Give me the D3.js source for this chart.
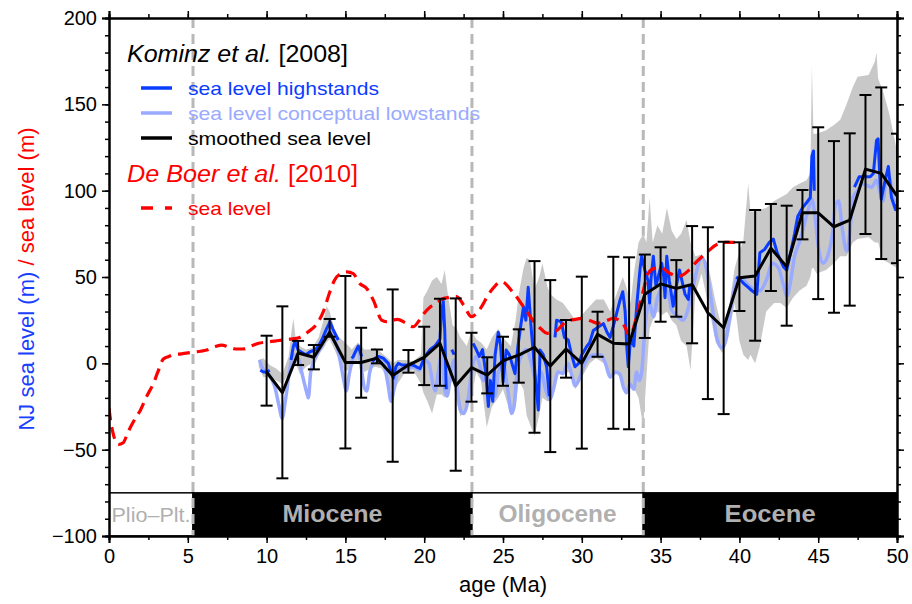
<!DOCTYPE html>
<html>
<head>
<meta charset="utf-8">
<script src="https://cdn.jsdelivr.net/npm/d3@7"></script>
<style>
  body { margin: 0; background: #fff; }
  svg { font-family: "Liberation Sans", Arial, Helvetica, sans-serif; }
</style>
</head>
<body>
<svg id="canvas" width="912" height="604"></svg>
<script>
// Kominz et al. 2008 smoothed sea level + error bars
var smoothAge = [10, 11, 12, 13, 14, 15, 16, 17, 18, 19, 20, 21, 22, 23, 24, 25, 26, 27, 28, 29, 30,
  31, 32, 33, 34, 35, 36, 37, 38, 39, 40, 41, 42, 43, 44, 45, 46, 47, 48, 49, 50];
var smoothVal = [-5, -17, 6, 3.5, 18, 0.5, 0.5, 3, -7, -1, 3.5, 11.5, -13, -2.5, -6.8, 1.5, 4.8, 9.3, -1.6, 8.3, 0,
  16.8, 11.6, 11.2, 40, 46, 43.4, 45.7, 29.3, 20.6, 49.6, 50.6, 66.6, 56, 87.2, 87.2, 79.1, 83, 112.5, 110, 97];
var errHigh = [16, 33, 13, 10.6, 25.7, 50.6, 20.6, 8, 42.8, 7.7, 21.2, 37.4, 37.6, 17.7, 3.5, 15.4, 19.7, 59.2, 48.2, 25.1, 50.2,
  29.9, 61.7, 61.4, 63, 67.2, 59.8, 79.5, 78.8, 70.4, 70.1, 88.8, 92.3, 91.3, 100.4, 136.7, 128.7, 133.2, 155.4, 159.8, 133];
var errLow = [-24.5, -66.6, -1, -3.5, 15.4, -49.3, -19.9, 0, -57, -5.4, -12.6, -13, -62.2, -22.2, -17.4, -13, -11.2, -40.2, -51.4, -8.3, -49.4,
  3.8, -37.9, -38.2, 14.7, 24.1, 27, 11.6, -20.7, -29.4, 30.3, 13.1, 41.9, 21.8, 71.8, 37.2, 29.3, 33.4, 74.9, 60.4, 58];

// De Boer et al. 2010 sea level
var deBoerAge = [0, 0.1, 0.3, 0.6, 0.9, 1.2, 1.6, 2.0, 2.4, 2.8, 3.1, 3.45, 3.8, 4.1, 4.6, 5.3, 5.8, 6.2, 6.7, 7.15,
  7.6, 8.1, 8.5, 9.0, 9.5, 10.0, 10.5, 11.0, 11.5, 12.1, 12.6, 13.2, 13.6, 14.0, 14.3, 14.7, 15.1, 15.5, 15.9, 16.35,
  16.8, 17.3, 17.6, 18.0, 18.3, 18.8, 19.3, 19.7, 20.0, 20.4, 20.8, 21.2, 21.6, 22.06, 22.5, 23.0, 23.5, 24.2, 24.9, 25.6,
  26.3, 26.9, 27.4, 27.8, 28.4, 29.0, 29.6, 30.1, 30.6, 31.0, 31.5, 32.0, 32.6, 33.05, 33.5, 33.9, 34.2, 34.6, 35.0, 35.6,
  36.2, 36.8, 37.3, 37.9, 38.5, 39.0, 39.7];
var deBoerVal = [-26, -33, -42, -47, -46, -40, -33, -27, -19, -12, -5, 2.5, 4, 5, 5.5, 6.4, 7, 7.7, 9.5, 10.6,
  9.5, 8.3, 8.3, 10, 11.6, 12.3, 12.9, 13.5, 14, 15, 18, 23, 30, 41, 48, 52, 53, 52, 46.3, 43.4,
  36, 25, 24.1, 25, 25.5, 23.5, 21.2, 25, 29, 32.8, 35, 37.6, 38.2, 38.6, 33.8, 27, 30.9, 41.5, 47.3, 41.5,
  32.8, 25, 20, 17.4, 19, 24.1, 25.5, 26, 24.5, 23.2, 24.5, 26, 23.2, 16, 28, 42, 52, 55, 55.5, 52,
  50.5, 54, 59, 64, 68.5, 70, 70];

// sea level highstands (null = gap)
var highAge = [9.6, 9.8, 10.0, 10.2, 10.3,
  11.55, 11.7, 11.8, 12.0, 12.3, 12.5, 12.75, 13.07, 13.3, 13.5, 13.8, 14.02, 14.2, 14.34, 14.55, 14.6,
  15.4, 15.5, 15.7, 15.82, 16.03, 16.1,
  16.7, 16.9, 17.09, 17.4, 17.72, 17.9, 18.04, 18.2, 18.36, 18.6, 18.89, 19.3, 19.5, 19.73, 20.05, 20.37, 20.68, 21.0, 21.1, 21.21, 21.3, 21.4, 21.5,
  21.75, 21.9, 22.0,
  23.1, 23.3, 23.5, 23.7, 23.9, 24.07, 24.2, 24.35, 24.5, 24.6, 24.7, 24.85, 25.0, 25.2, 25.4, 25.76, 25.95, 26.1, 26.3, 26.45, 26.6, 26.8,
  27.03, 27.24, 27.35, 27.55, 27.77, 27.94, 28.0,
  28.3, 28.4, 28.7, 28.9, 29.14, 29.35, 29.57, 29.8, 30.0, 30.3, 30.5, 30.73, 31.05, 31.37, 31.6, 31.8, 32.1, 32.43, 32.6, 32.75,
  32.85, 32.95, 33.1, 33.3, 33.5, 33.7, 33.8, 34.0, 34.2, 34.3, 34.4, 34.54, 34.7, 34.85, 35.07, 35.2, 35.28, 35.39, 35.55, 35.8,
  36.0, 36.2, 36.35, 36.55, 36.76, 36.85, 36.9,
  39.8, 40.1, 40.3, 40.56, 40.8, 41.1, 41.3, 41.6, 41.9, 42.15, 42.4, 42.79, 43.0, 43.2, 43.5, 43.7, 44.0, 44.26, 44.5, 44.6,
  44.7, 44.75, 44.8,
  47.3, 47.6, 48.0, 48.3, 48.5, 48.7, 48.8, 48.9, 49.0, 49.2, 49.45, 49.65, 49.9, 50.0];
var highVal = [-4, -5, -5, -4, null,
  2, 10, 12.5, 7.7, 6, 5, 6.7, 7.7, 10, 13.5, 20, 24, 20, 17.4, 13.5, null,
  3, 4, 8, 10, 4, null,
  1, 3, 4, 3, 0, -5, -8.7, -2, 0, -1, -1, -1, -2, -3, 4, 8, 10, 14, 30, 36, 20, -15, null,
  8, 5, null,
  11.6, 8, 4, 8, -5, -25, -10, -22, 5, 11.6, 18, 10, -11, 7.7, 5, -6, 10, 20, 32.8, 25, 44, 19,
  -6, -27, 7.7, 5, -2, -19, null,
  15, 25, 24, 15, 13.5, 5, -2, 0, 5, 9.6, 12, 19, 21, 23, 18, 15, 25, 36.7, 41.5, 30,
  10, -2, 15, 10, 35, 55, 62, 54, 48, 35, 50, 62, 45, 50, 58, 50, 38, 62, 48, 33,
  45, 54, 48, 40, 37, 45, null,
  50, 48, 46, 44, 42, 40, 64, 66, 70, 72, 64, 56, 54, 62, 75, 85, 90, 93, 96, 120,
  123, 100, null,
  102, 108, 108, 108, 110, 129, 130, 110, 95, 104, 114, 96, 89, 92];

// sea level conceptual lowstands
var lowAge = [9.55, 9.75, 10.1, 10.5, 10.8, 10.98, 11.2, 11.45, 11.7, 12.0, 12.3, 12.55, 12.65, 12.8, 13.1, 13.5, 13.9, 14.1, 14.4, 14.7,
  14.9, 15.05, 15.25, 15.55, 15.8, 16.0, 16.2, 16.35, 16.55, 16.8, 17.1, 17.4, 17.7, 17.9, 18.1, 18.4, 18.9, 19.3, 19.7, 20.0,
  20.3, 20.55, 20.7, 20.9, 21.1, 21.3, 21.45, 21.7, 21.9, 22.1, 22.3, 22.5, 22.8, 23.0, 23.3, 23.55, 23.75, 24.0, 24.3, 24.5,
  24.7, 25.0, 25.3, 25.55, 25.7, 25.9, 26.2, 26.5, 26.8, 27.1, 27.4, 27.7, 27.98, 28.2, 28.5, 28.8, 29.1, 29.4, 29.57, 29.8,
  30.1, 30.4, 30.8, 31.2, 31.5, 31.8, 32.1, 32.4, 32.65, 32.84, 33.05, 33.3, 33.48, 33.65, 33.8, 34.0, 34.3, 34.54, 34.8, 35.2,
  35.5, 35.7, 36.0, 36.44, 36.7, 37.0, 37.2, 37.45, 37.65, 37.9, 38.24, 38.56, 38.9, 39.1, 39.35, 39.6, 39.9, 40.3, 40.6, 40.9,
  41.3, 41.7, 42.1, 42.5, 42.8, 43.0, 43.2, 43.5, 43.8, 44.1, 44.4, 44.6, 44.8, 45.0, 45.3, 45.6, 45.9, 46.1, 46.3, 46.5,
  46.8, 47.0, 47.2, 47.5, 47.8, 48.1, 48.4, 48.7, 48.9, 49.1, 49.3, 49.5, 49.7, 50.0];
var lowVal = [2, -3, -6, -13, -25, -32, -21, -5, 5, 3, -8, -17, -20, -5, 3, 10, 18, 20, 12, 0,
  -10, -16, -6, 5, 8, -2, -14, -16, -5, 1, 3, 1, -12, -22, -14, -3, -3, -2, -4, 2,
  0, -12, -16, -5, 5, -15, -19, -5, 2, -15, -27, -29, -20, -5, 4, -2, -10, -8, -15, -19,
  -5, 0, -15, -29, -25, -5, 5, 8, 0, -10, -5, -15, -21, -15, -5, -6, 0, -8, -13, -10,
  -2, 3, 5, 5, 0, -8, -5, -6, -14, -17, -12, -15, -5, -10, -5, 20, 35, 27, 38, 44,
  40, 31, 28, 25, 30, 42, 50, 59, 61, 55, 35, 15, 9, 12, 25, 40, 50, 48, 45, 43,
  42, 48, 58, 55, 45, 39, 45, 62, 70, 80, 90, 95, 85, 68, 58, 62, 75, 92, 94, 80,
  65, 75, 96, 100, 104, 103, 102, 106, 100, 94, 105, 108, 98, 90];

// uncertainty envelope
var bandAge = [9.5, 9.8, 10.2, 10.6, 11.0, 11.4, 11.6, 11.7, 11.85, 12.1, 12.5, 12.9, 13.3, 13.7, 13.8, 14.0, 14.3, 14.6, 15.0, 15.4,
  15.8, 16.2, 16.6, 16.9, 17.3, 17.7, 18.0, 18.3, 18.8, 19.3, 19.8, 19.95, 20.2, 20.5, 20.8, 21.1, 21.3, 21.5, 21.8, 22.06,
  22.3, 22.7, 23.0, 23.3, 23.6, 23.97, 24.3, 24.7, 25.0, 25.5, 25.8, 26.0, 26.3, 26.5, 26.7, 27.0, 27.3, 27.5, 27.8, 28.0,
  28.4, 28.8, 29.2, 29.6, 30.0, 30.5, 30.9, 31.4, 31.8, 32.2, 32.6, 32.8, 33.1, 33.3, 33.6, 33.9, 34.1, 34.3, 34.5, 34.8,
  35.1, 35.4, 35.7, 36.0, 36.3, 36.65, 36.9, 37.2, 37.6, 38.0, 38.5, 38.9, 39.3, 39.7, 40.0, 40.25, 40.56, 40.7, 41.0, 41.3,
  41.7, 42.2, 42.6, 43.0, 43.4, 43.8, 44.26, 44.5, 44.6, 44.7, 44.9, 45.5, 46.0, 46.4, 46.8, 47.2, 47.5, 48.2, 48.6, 48.7,
  48.8, 49.1, 49.5, 50.0];
var bandLow = [-2, -8, -8, -10, -12, -6, 0, 2, 0, -6, -2, 0, 5, 10, 12, 14, 8, 2, -5, -2,
  2, -5, -3, -2, -3, -10, -20, -12, -5, -4, -12, -17, -22, -29, -18, -18, -20, -15, -10, -23,
  -31, -25, -20, -5, -10, -37, -25, -20, -15, -30, -25, -10, -15, -30, -35, -42, -30, -20, -22, -22,
  -5, -6, -5, -15, -8, 0, 3, 0, -8, -6, -10, -18, -12, -14, -20, -37, -8, 20, 25, 30,
  28, 30, 25, 22, 13, 10, -4, 40, 52, 35, 12, 6, 15, 35, 13, 5, 2, 5, 0, 10,
  30, 35, 35, 32, 38, 42, 45, 50, 55, 55, 52, 54, 58, 62, 62, 70, 72, 73, 70, 70,
  70, 60, 58, 55];
var bandHigh = [2, 3, -1, -3, -6, 4, 20, 26, 14, 10, 8, 9, 15, 28, 33, 30, 20, 15, 12, 8,
  12, 8, 8, 9, 6, 3, 0, 2, 2, 1, 5, 38, 42, 48, 50, 46, 54, 40, 22, 20,
  15, 10, 19, 14, 12, 8, 15, 20, 15, 10, 25, 40, 55, 61, 60, 43, 50, 58, 45, 40,
  37, 35, 30, 25, 28, 33, 37, 37, 30, 40, 50, 45, 35, 52, 70, 75, 70, 96, 70, 80,
  75, 90, 77, 72, 75, 83, 70, 62, 63, 58, 35, 20, 30, 55, 65, 71, 104, 88, 88, 89,
  90, 94, 96, 98, 102, 104, 106, 110, 172, 133, 133, 135, 138, 141, 150, 160, 166, 167, 175, 180,
  165, 158, 145, 123];

var epochName = ['Plio\u2013Plt.', 'Miocene', 'Oligocene', 'Eocene'];
var epochStart = [0, 5.33, 23.03, 33.9];
var epochEnd = [5.33, 23.03, 33.9, 50];
var boundaries = [5.33, 23.03, 33.9];

var xTicks = [0, 5, 10, 15, 20, 25, 30, 35, 40, 45, 50];
var yTicks = [-100, -50, 0, 50, 100, 150, 200];

var padLeft = 109;
var padRight = 897;
var padTop = 18;
var padBottom = 536;

var svg = d3.select('#canvas');

var x = d3.scaleLinear().domain([0, 50]).range([padLeft, padRight]);
var y = d3.scaleLinear().domain([-100, 200]).range([padBottom, padTop]);

function pairs(ages, vals) {
  return ages.map((a, i) => {
    return {a: a, v: vals[i]};
  });
}

svg.append('clipPath').attr('id', 'plotclip')
  .append('rect')
  .attr('x', padLeft).attr('y', padTop)
  .attr('width', padRight - padLeft).attr('height', padBottom - padTop);

var plot = svg.append('g').attr('clip-path', 'url(#plotclip)');

// epoch band at the bottom
var labelWidth = [79, 100, 118, 91];
var epochs = epochName.map((n, i) => {
  return {name: n, s: epochStart[i], e: epochEnd[i], dark: i % 2 === 1, w: labelWidth[i]};
});
plot.selectAll('.epoch')
  .data(epochs)
  .enter()
  .append('rect')
  .attr('x', d => x(d.s))
  .attr('y', y(-75))
  .attr('width', d => x(d.e) - x(d.s))
  .attr('height', y(-100) - y(-75))
  .style('fill', d => d.dark ? '#000' : '#fff')
  .style('stroke', '#000')
  .style('stroke-width', 1.5);

// boundary lines
plot.selectAll('.bound')
  .data(boundaries)
  .enter()
  .append('line')
  .attr('x1', d => x(d)).attr('x2', d => x(d))
  .attr('y1', padTop).attr('y2', padBottom)
  .style('stroke', '#b8b8b8')
  .style('stroke-width', 3)
  .style('stroke-dasharray', '10,6');

svg.selectAll('.epochlabel')
  .data(epochs)
  .enter()
  .append('text')
  .attr('x', d => (x(d.s) + x(d.e)) / 2)
  .attr('y', y(-87.5) + 8)
  .attr('text-anchor', 'middle')
  .style('fill', '#b0b0b0')
  .style('font-size', d => d.name.indexOf('Plio') === 0 ? '20px' : '23px')
  .style('font-weight', d => d.name.indexOf('Plio') === 0 ? 'normal' : 'bold')
  .attr('textLength', d => d.w)
  .attr('lengthAdjust', 'spacingAndGlyphs')
  .text(d => d.name);

// gray uncertainty envelope
var bandData = bandAge.map((a, i) => {
  return {a: a, lo: bandLow[i], hi: bandHigh[i]};
});
plot.append('path')
  .datum(bandData)
  .attr('d', d3.area()
    .x(d => x(d.a))
    .y0(d => y(d.lo))
    .y1(d => y(d.hi)))
  .style('fill', '#c8c8c8')
  .style('stroke', 'none');

// lowstands
plot.append('path')
  .datum(pairs(lowAge, lowVal))
  .attr('d', d3.line().curve(d3.curveMonotoneX).x(d => x(d.a)).y(d => y(d.v)))
  .style('fill', 'none')
  .style('stroke', '#99aaff')
  .style('stroke-width', 3.5);

// highstands
plot.append('path')
  .datum(pairs(highAge, highVal))
  .attr('d', d3.line().defined(d => d.v !== null).x(d => x(d.a)).y(d => y(d.v)))
  .style('fill', 'none')
  .style('stroke', '#0a3cff')
  .style('stroke-width', 3)
  .style('stroke-linejoin', 'round');

// De Boer sea level
plot.append('path')
  .datum(pairs(deBoerAge, deBoerVal))
  .attr('d', d3.line().curve(d3.curveMonotoneX).x(d => x(d.a)).y(d => y(d.v)))
  .style('fill', 'none')
  .style('stroke', '#ff0000')
  .style('stroke-width', 3.2)
  .style('stroke-dasharray', '12,7');

// error bars
var smooth = smoothAge.map((a, i) => {
  return {a: a, v: smoothVal[i], hi: errHigh[i], lo: errLow[i]};
});
var bars = plot.selectAll('.err')
  .data(smooth)
  .enter()
  .append('g')
  .attr('class', 'err')
  .style('stroke', '#000')
  .style('stroke-width', 2);
bars.append('line')
  .attr('x1', d => x(d.a)).attr('x2', d => x(d.a))
  .attr('y1', d => y(d.hi)).attr('y2', d => y(d.lo));
bars.append('line')
  .attr('x1', d => x(d.a) - 6).attr('x2', d => x(d.a) + 6)
  .attr('y1', d => y(d.hi)).attr('y2', d => y(d.hi));
bars.append('line')
  .attr('x1', d => x(d.a) - 6).attr('x2', d => x(d.a) + 6)
  .attr('y1', d => y(d.lo)).attr('y2', d => y(d.lo));

// smoothed sea level
plot.append('path')
  .datum(smooth)
  .attr('d', d3.line().x(d => x(d.a)).y(d => y(d.v)))
  .style('fill', 'none')
  .style('stroke', '#000')
  .style('stroke-width', 3)
  .style('stroke-linejoin', 'round');

// axes
var xMinor = d3.range(0, 50.01, 2.5);
var yMinor = d3.range(-100, 200.01, 10);

svg.append('g')
  .attr('transform', 'translate(0,' + padBottom + ')')
  .call(d3.axisBottom(x).tickValues(xTicks).tickSize(7).tickPadding(6).tickFormat(d3.format('d')));
svg.append('g')
  .attr('transform', 'translate(0,' + padBottom + ')')
  .call(d3.axisBottom(x).tickValues(xMinor).tickSize(4).tickFormat(''));
svg.append('g')
  .attr('transform', 'translate(0,' + padTop + ')')
  .call(d3.axisTop(x).tickValues(xTicks).tickSize(7).tickFormat(''));
svg.append('g')
  .attr('transform', 'translate(0,' + padTop + ')')
  .call(d3.axisTop(x).tickValues(xMinor).tickSize(4).tickFormat(''));

svg.append('g')
  .attr('transform', 'translate(' + padLeft + ',0)')
  .call(d3.axisLeft(y).tickValues(yTicks).tickSize(7).tickPadding(5).tickFormat(d => d < 0 ? '\u2212' + Math.abs(d) : d));
svg.append('g')
  .attr('transform', 'translate(' + padLeft + ',0)')
  .call(d3.axisLeft(y).tickValues(yMinor).tickSize(4).tickFormat(''));
svg.append('g')
  .attr('transform', 'translate(' + padRight + ',0)')
  .call(d3.axisRight(y).tickValues(yTicks).tickSize(7).tickFormat(''));
svg.append('g')
  .attr('transform', 'translate(' + padRight + ',0)')
  .call(d3.axisRight(y).tickValues(yMinor).tickSize(4).tickFormat(''));

svg.selectAll('.domain').style('stroke', '#000').style('stroke-width', 2);
svg.selectAll('.tick line').style('stroke', '#000').style('stroke-width', 1.5);
svg.selectAll('.tick text')
  .style('font-family', '"Liberation Sans", Arial, sans-serif')
  .style('font-size', '20px')
  .style('fill', '#000');

// axis titles
svg.append('text')
  .attr('x', (padLeft + padRight) / 2)
  .attr('y', 592)
  .attr('text-anchor', 'middle')
  .style('font-size', '22px')
  .text('age (Ma)');

var ylab = svg.append('text')
  .attr('transform', 'translate(34,' + ((padTop + padBottom) / 2 + 2) + ') rotate(-90)')
  .attr('text-anchor', 'middle')
  .style('font-size', '22px');
ylab.append('tspan').style('fill', '#1a40ff').text('NJ sea level (m)');
ylab.append('tspan').style('fill', '#ff0000').text(' / sea level (m)');

// legend
var legend = svg.append('g');
var kom = legend.append('text').attr('x', 127).attr('y', 62).style('font-size', '23px')
  .attr('textLength', 221).attr('lengthAdjust', 'spacingAndGlyphs');
kom.append('tspan').style('font-style', 'italic').text('Kominz et al.');
kom.append('tspan').text(' [2008]');

var legendItems = [
  {label: 'sea level highstands', color: '#0a3cff', y: 88, dash: null, w: 191},
  {label: 'sea level conceptual lowstands', color: '#99aaff', y: 113, dash: null, w: 292},
  {label: 'smoothed sea level', color: '#000', y: 138, dash: null, w: 183},
  {label: 'sea level', color: '#ff0000', y: 208, dash: '12,12', w: 83},
];
legendItems.forEach(d => {
  legend.append('line')
    .attr('x1', 141).attr('x2', 172)
    .attr('y1', d.y).attr('y2', d.y)
    .style('stroke', d.color)
    .style('stroke-width', 3.5)
    .style('stroke-dasharray', d.dash);
  legend.append('text')
    .attr('x', 188).attr('y', d.y + 7)
    .style('font-size', '19px')
    .attr('textLength', d.w)
    .attr('lengthAdjust', 'spacingAndGlyphs')
    .style('fill', d.color)
    .text(d.label);
});

var deb = legend.append('text').attr('x', 127).attr('y', 182).style('font-size', '23px').style('fill', '#ff0000')
  .attr('textLength', 231).attr('lengthAdjust', 'spacingAndGlyphs');
deb.append('tspan').style('font-style', 'italic').text('De Boer et al.');
deb.append('tspan').text(' [2010]');
</script>
</body>
</html>
